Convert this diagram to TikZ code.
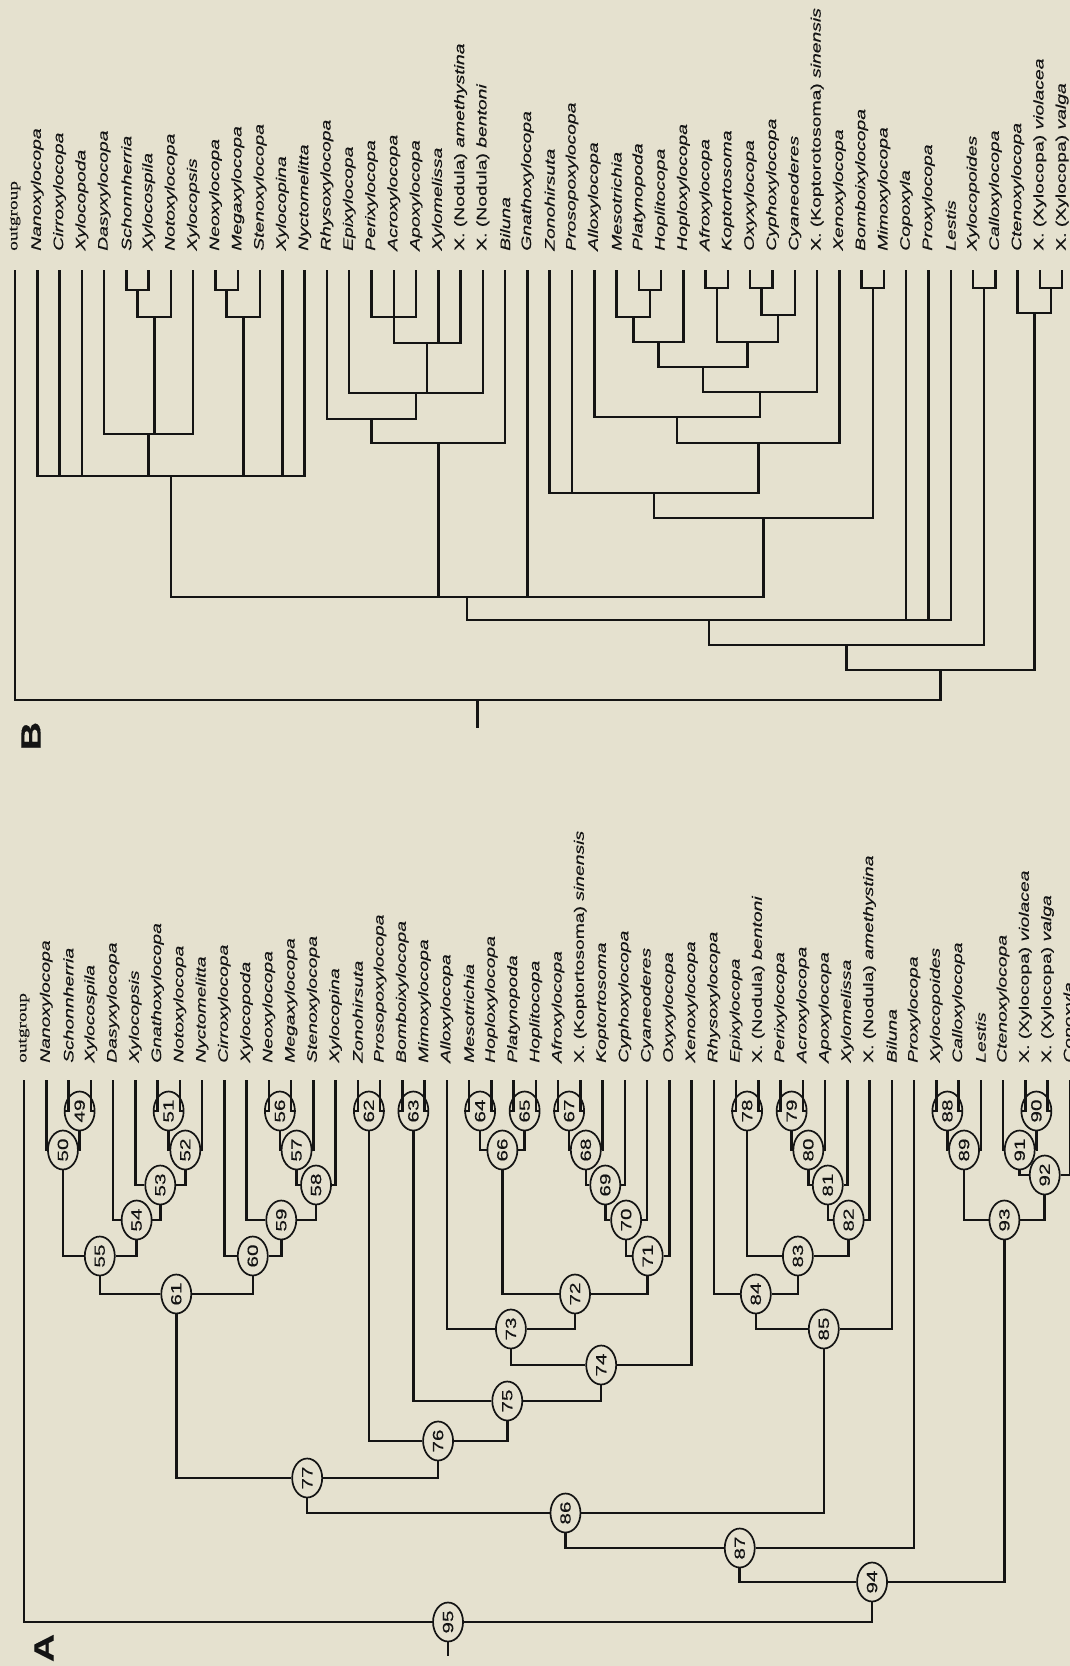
\documentclass[tikz,border=0pt]{standalone}
\usepackage{fontspec}
\setmainfont{Liberation Sans}[FakeBold=0.3]
\newfontfamily\outfont{Liberation Serif}[FakeBold=0.3]
\usetikzlibrary{shapes.geometric,calc}
\definecolor{bg}{RGB}{229,225,207}
\definecolor{ink}{RGB}{20,20,20}
\newcommand\strt[1]{\scalebox{1.4}[1]{#1}}
\newcommand\gn[1]{\strt{\itshape #1}}
\newcommand\spn[3]{\strt{#1 (#2) {\itshape #3}}}
\newcommand\og{\strt{\outfont outgroup}}
% tree A leaf: index, text
\newcommand\leafA[2]{\coordinate (lA#1) at ({24+22.25*#1},1080);
  \node[lab] (tA#1) at ({24+22.25*#1},1064) {#2};}
\newcommand\leafB[2]{\coordinate (lB#1) at ({15+22.28*#1},270);
  \node[lab] (tB#1) at ({15+22.28*#1},252) {#2};}
% tree A internal node with circle
\newcommand\inA[4]{\path ($(#2)!0.5!(#3)$) coordinate (cA#1);
  \node[circ] (n#1) at (cA#1 |- 0,#4) {\strt{#1}};
  \draw (#2) |- (n#1); \draw (#3) |- (n#1);}
% tree B internal node (no circle)
\newcommand\inB[4]{\path ($(#2)!0.5!(#3)$) coordinate (m#1);
  \coordinate (#1) at (m#1 |- 0,#4);
  \draw (#2) |- (#1); \draw (#3) |- (#1);}
\begin{document}
\begin{tikzpicture}[x=0.5pt,y=-0.5pt,line width=1.25pt,draw=ink,
  lab/.style={rotate=90,anchor=west,inner sep=0pt,font=\fontsize{6.9}{8}\selectfont,text=ink},
  circ/.style={ellipse,draw=ink,line width=0.85pt,fill=bg,rotate=90,inner sep=0pt,
    minimum width=19.5pt,minimum height=15pt,font=\fontsize{7.4}{8}\selectfont,text=ink},
  panel/.style={rotate=90,inner sep=0pt,font=\fontsize{14}{16}\selectfont\bfseries,text=ink}]
\fill[bg] (0,0) rectangle (1070,1666);
\useasboundingbox (0,0) rectangle (1070,1666);

%================ TREE A =================
\leafA{0}{\og}
\leafA{1}{\gn{Nanoxylocopa}}
\leafA{2}{\gn{Schonnherria}}
\leafA{3}{\gn{Xylocospila}}
\leafA{4}{\gn{Dasyxylocopa}}
\leafA{5}{\gn{Xylocopsis}}
\leafA{6}{\gn{Gnathoxylocopa}}
\leafA{7}{\gn{Notoxylocopa}}
\leafA{8}{\gn{Nyctomelitta}}
\leafA{9}{\gn{Cirroxylocopa}}
\leafA{10}{\gn{Xylocopoda}}
\leafA{11}{\gn{Neoxylocopa}}
\leafA{12}{\gn{Megaxylocopa}}
\leafA{13}{\gn{Stenoxylocopa}}
\leafA{14}{\gn{Xylocopina}}
\leafA{15}{\gn{Zonohirsuta}}
\leafA{16}{\gn{Prosopoxylocopa}}
\leafA{17}{\gn{Bomboixylocopa}}
\leafA{18}{\gn{Mimoxylocopa}}
\leafA{19}{\gn{Alloxylocopa}}
\leafA{20}{\gn{Mesotrichia}}
\leafA{21}{\gn{Hoploxylocopa}}
\leafA{22}{\gn{Platynopoda}}
\leafA{23}{\gn{Hoplitocopa}}
\leafA{24}{\gn{Afroxylocopa}}
\leafA{25}{\spn{X.}{Koptortosoma}{sinensis}}
\leafA{26}{\gn{Koptortosoma}}
\leafA{27}{\gn{Cyphoxylocopa}}
\leafA{28}{\gn{Cyaneoderes}}
\leafA{29}{\gn{Oxyxylocopa}}
\leafA{30}{\gn{Xenoxylocopa}}
\leafA{31}{\gn{Rhysoxylocopa}}
\leafA{32}{\gn{Epixylocopa}}
\leafA{33}{\spn{X.}{Nodula}{bentoni}}
\leafA{34}{\gn{Perixylocopa}}
\leafA{35}{\gn{Acroxylocopa}}
\leafA{36}{\gn{Apoxylocopa}}
\leafA{37}{\gn{Xylomelissa}}
\leafA{38}{\spn{X.}{Nodula}{amethystina}}
\leafA{39}{\gn{Biluna}}
\leafA{40}{\gn{Proxylocopa}}
\leafA{41}{\gn{Xylocopoides}}
\leafA{42}{\gn{Calloxylocopa}}
\leafA{43}{\gn{Lestis}}
\leafA{44}{\gn{Ctenoxylocopa}}
\leafA{45}{\spn{X.}{Xylocopa}{violacea}}
\leafA{46}{\spn{X.}{Xylocopa}{valga}}
\leafA{47}{\gn{Copoxyla}}

\inA{49}{lA2}{lA3}{1111}
\inA{50}{lA1}{n49}{1150}
\inA{51}{lA6}{lA7}{1111}
\inA{52}{n51}{lA8}{1150}
\inA{53}{lA5}{n52}{1185}
\inA{54}{lA4}{n53}{1220}
\inA{55}{n50}{n54}{1256}
\inA{56}{lA11}{lA12}{1111}
\inA{57}{n56}{lA13}{1150}
\inA{58}{n57}{lA14}{1185}
\inA{59}{lA10}{n58}{1220}
\inA{60}{lA9}{n59}{1256}
\inA{61}{n55}{n60}{1294}
\inA{62}{lA15}{lA16}{1111}
\inA{63}{lA17}{lA18}{1111}
\inA{64}{lA20}{lA21}{1111}
\inA{65}{lA22}{lA23}{1111}
\inA{66}{n64}{n65}{1150}
\inA{67}{lA24}{lA25}{1111}
\inA{68}{n67}{lA26}{1150}
\inA{69}{n68}{lA27}{1185}
\inA{70}{n69}{lA28}{1220}
\inA{71}{n70}{lA29}{1256}
\inA{72}{n66}{n71}{1294}
\inA{73}{lA19}{n72}{1329}
\inA{74}{n73}{lA30}{1365}
\inA{75}{n63}{n74}{1401}
\inA{76}{n62}{n75}{1441}
\inA{77}{n61}{n76}{1478}
\inA{78}{lA32}{lA33}{1111}
\inA{79}{lA34}{lA35}{1111}
\inA{80}{n79}{lA36}{1150}
\inA{81}{n80}{lA37}{1185}
\inA{82}{n81}{lA38}{1220}
\inA{83}{n78}{n82}{1256}
\inA{84}{lA31}{n83}{1294}
\inA{85}{n84}{lA39}{1329}
\inA{86}{n77}{n85}{1513}
\inA{87}{n86}{lA40}{1548}
\inA{88}{lA41}{lA42}{1111}
\inA{89}{n88}{lA43}{1150}
\inA{90}{lA45}{lA46}{1111}
\inA{91}{lA44}{n90}{1150}
\inA{92}{n91}{lA47}{1175}
\inA{93}{n89}{n92}{1220}
\inA{94}{n87}{n93}{1582}
\inA{95}{lA0}{n94}{1622}
\coordinate (rootA) at (n95 |- 0,1656);
\draw (n95) -- (rootA);
\node[panel] (panelA) at (44,1648) {\strt{A}};

%================ TREE B =================
\leafB{0}{\og}
\leafB{1}{\gn{Nanoxylocopa}}
\leafB{2}{\gn{Cirroxylocopa}}
\leafB{3}{\gn{Xylocopoda}}
\leafB{4}{\gn{Dasyxylocopa}}
\leafB{5}{\gn{Schonnherria}}
\leafB{6}{\gn{Xylocospila}}
\leafB{7}{\gn{Notoxylocopa}}
\leafB{8}{\gn{Xylocopsis}}
\leafB{9}{\gn{Neoxylocopa}}
\leafB{10}{\gn{Megaxylocopa}}
\leafB{11}{\gn{Stenoxylocopa}}
\leafB{12}{\gn{Xylocopina}}
\leafB{13}{\gn{Nyctomelitta}}
\leafB{14}{\gn{Rhysoxylocopa}}
\leafB{15}{\gn{Epixylocopa}}
\leafB{16}{\gn{Perixylocopa}}
\leafB{17}{\gn{Acroxylocopa}}
\leafB{18}{\gn{Apoxylocopa}}
\leafB{19}{\gn{Xylomelissa}}
\leafB{20}{\spn{X.}{Nodula}{amethystina}}
\leafB{21}{\spn{X.}{Nodula}{bentoni}}
\leafB{22}{\gn{Biluna}}
\leafB{23}{\gn{Gnathoxylocopa}}
\leafB{24}{\gn{Zonohirsuta}}
\leafB{25}{\gn{Prosopoxylocopa}}
\leafB{26}{\gn{Alloxylocopa}}
\leafB{27}{\gn{Mesotrichia}}
\leafB{28}{\gn{Platynopoda}}
\leafB{29}{\gn{Hoplitocopa}}
\leafB{30}{\gn{Hoploxylocopa}}
\leafB{31}{\gn{Afroxylocopa}}
\leafB{32}{\gn{Koptortosoma}}
\leafB{33}{\gn{Oxyxylocopa}}
\leafB{34}{\gn{Cyphoxylocopa}}
\leafB{35}{\gn{Cyaneoderes}}
\leafB{36}{\spn{X.}{Koptorotosoma}{sinensis}}
\leafB{37}{\gn{Xenoxylocopa}}
\leafB{38}{\gn{Bomboixylocopa}}
\leafB{39}{\gn{Mimoxylocopa}}
\leafB{40}{\gn{Copoxyla}}
\leafB{41}{\gn{Proxylocopa}}
\leafB{42}{\gn{Lestis}}
\leafB{43}{\gn{Xylocopoides}}
\leafB{44}{\gn{Calloxylocopa}}
\leafB{45}{\gn{Ctenoxylocopa}}
\leafB{46}{\spn{X.}{Xylocopa}{violacea}}
\leafB{47}{\spn{X.}{Xylocopa}{valga}}

% left clade
\inB{c1}{lB5}{lB6}{290}
\inB{c2}{c1}{lB7}{317}
\inB{c3}{lB4}{lB8}{434}
\draw (c2) |- (c3);
\inB{c4}{lB9}{lB10}{290}
\inB{c5}{c4}{lB11}{317}
\inB{c6}{lB1}{lB13}{476}
\draw (lB2) |- (c6); \draw (lB3) |- (c6); \draw (c3) |- (c6);
\draw (c5) |- (c6); \draw (lB12) |- (c6);
% Perixylocopa clade
\inB{b15}{lB16}{lB18}{317}
\inB{b16}{b15}{lB20}{343}
\draw (lB17) |- (b16); \draw (lB19) |- (b16);
\inB{b17}{lB15}{lB21}{393}
\draw (b16) |- (b17);
\inB{b18}{lB14}{b17}{419}
\inB{b19}{b18}{lB22}{443}
% Koptortosoma etc.
\inB{b1}{lB28}{lB29}{290}
\inB{b2}{lB27}{b1}{317}
\inB{b3}{b2}{lB30}{342}
\inB{b4}{lB31}{lB32}{288}
\inB{b5}{lB33}{lB34}{288}
\inB{b6}{b5}{lB35}{315}
\inB{b7}{b4}{b6}{342}
\inB{b8}{b3}{b7}{367}
\inB{b9}{b8}{lB36}{392}
\inB{b10}{lB26}{b9}{417}
\inB{b11}{b10}{lB37}{443}
\inB{b12}{lB24}{b11}{493}
\draw (lB25) |- (b12);
\inB{b13}{lB38}{lB39}{288}
\inB{b14}{b12}{b13}{518}
% backbone
\inB{b21}{c6}{b14}{597}
\draw (b19) |- (b21); \draw (lB23) |- (b21);
\inB{b22}{b21}{lB42}{620}
\draw (lB40) |- (b22); \draw (lB41) |- (b22);
\inB{b23}{lB43}{lB44}{288}
\inB{b24}{b22}{b23}{645}
\inB{b25}{lB46}{lB47}{288}
\inB{b26}{lB45}{b25}{313}
\inB{b27}{b24}{b26}{670}
\inB{b28}{lB0}{b27}{700}
\coordinate (rootB) at (b28 |- 0,728);
\draw (b28) -- (rootB);
\node[panel] (panelB) at (31,736) {\strt{B}};
\end{tikzpicture}
\end{document}
